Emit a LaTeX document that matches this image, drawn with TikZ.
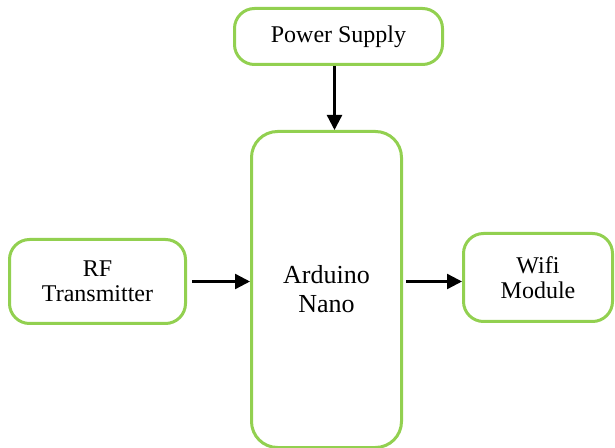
\documentclass[tikz,border=0pt]{standalone}
\usepackage{fontspec}
\setmainfont{Liberation Serif}
\usetikzlibrary{arrows.meta}
\definecolor{boxgreen}{HTML}{92D050}
\begin{document}
\begin{tikzpicture}[x=0.5pt,y=-0.5pt,
  blk/.style={draw=boxgreen,line width=1.5pt,rounded corners=10pt,align=center,
    font=\fontsize{12}{12.5}\selectfont,inner sep=0pt},
  arr/.style={line width=1.2pt,-{Triangle[length=7.5pt,width=7.5pt]}}]
\useasboundingbox (0,0) rectangle (615,448);
\node[blk,minimum width=104pt,minimum height=28pt] (power) at (338.5,36.5) {Power Supply};
\node[blk,minimum width=75pt,minimum height=158pt,rounded corners=13pt,
  font=\fontsize{13}{14.5}\selectfont] (ard) at (326.5,289.5) {Arduino\\Nano};
\node[blk,minimum width=88pt,minimum height=42pt] (rf) at (97.5,281.5) {RF\\Transmitter};
\node[blk,minimum width=74.5pt,minimum height=44pt] (wifi) at (538,277.5) {Wifi\\Module};
\draw[arr] ([xshift=-2pt]power.south) -- ([xshift=-2pt]power.south |- ard.north);
\draw[arr] ([xshift=2.5pt]rf.east) -- (rf.east -| ard.west);
\draw[arr] ([xshift=1.5pt]ard.east |- rf.east) -- (rf.east -| wifi.west);
\end{tikzpicture}
\end{document}
